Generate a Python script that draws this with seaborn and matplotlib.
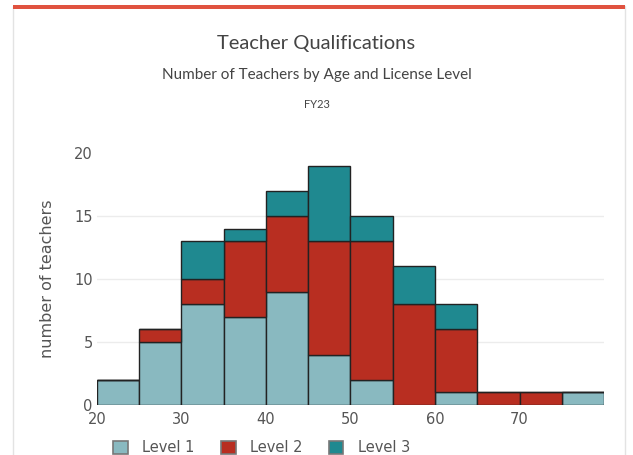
### Teacher Qualifications histogram ###

import pandas as pd
import numpy as np
import matplotlib.pyplot as plt
import matplotlib.patches as mpatches
import seaborn as sns

# data: teachers per 5-year age bin, split by license level
bin_starts = [20, 25, 30, 35, 40, 45, 50, 55, 60, 65, 70, 75]
level1 = [2, 5, 8, 7, 9, 4, 2, 0, 1, 0, 0, 1]
level2 = [0, 1, 2, 6, 6, 9, 11, 8, 5, 1, 1, 0]
level3 = [0, 0, 3, 1, 2, 6, 2, 3, 2, 0, 0, 0]
levels = ["Level 1", "Level 2", "Level 3"]
colors = {"Level 1": "#89b9c0", "Level 2": "#b82e21", "Level 3": "#1f8990"}

# long table, one row per bin and level, weighted by count
rows = []
for lvl, counts in zip(levels, [level1, level2, level3]):
    for start, n in zip(bin_starts, counts):
        rows.append({"age": start + 2.5, "level": lvl, "count": n})
teachers = pd.DataFrame(rows)

plt.rcParams["font.family"] = ["DejaVu Sans"]

fig = plt.figure(figsize=(6.33, 4.55), dpi=100)

# card frame with red top strip (drawn under the axes)
fig.patches.append(mpatches.Rectangle((13 / 633, -0.05), 612 / 633, 1.05 - 6 / 455,
                                      transform=fig.transFigure, facecolor="white",
                                      edgecolor="#e3e3e3", linewidth=1, zorder=-5))
fig.patches.append(mpatches.Rectangle((13 / 633, 1 - 9 / 455), 612 / 633, 4 / 455,
                                      transform=fig.transFigure, facecolor="#e0523f",
                                      edgecolor="none", zorder=-4))

ax = fig.add_axes([97 / 633, 50 / 455, 507 / 633, 252 / 455])
ax.set_facecolor("none")

# seaborn stacks the last hue level at the bottom
sns.histplot(data=teachers, x="age", hue="level", weights="count",
             hue_order=levels[::-1], palette=colors, multiple="stack",
             binwidth=5, binrange=(20, 80), alpha=1, edgecolor="#222222",
             linewidth=1, legend=False, ax=ax)

ax.set_xlim(20, 80)
ax.set_ylim(0, 20)
ax.set_xticks([20, 30, 40, 50, 60, 70])
ax.set_yticks([0, 5, 10, 15, 20])
for y in [5, 10, 15]:
    ax.axhline(y, color="#ececec", linewidth=1, zorder=0)
ax.set_axisbelow(True)
ax.tick_params(length=0, labelsize=10.5, labelcolor="#555555")
ax.tick_params(axis="y", pad=3)
ax.tick_params(axis="x", pad=5)
for side in ax.spines.values():
    side.set_visible(False)
ax.set_xlabel("")
ax.set_ylabel("number of teachers", fontsize=11.5, color="#555555", labelpad=14)

fig.text(0.5, 1 - 44 / 455, "Teacher Qualifications", ha="center", va="center",
         fontsize=14.5, color="#444444", family=["Lato", "DejaVu Sans"])
fig.text(0.5, 1 - 75 / 455, "Number of Teachers by Age and License Level", ha="center",
         va="center", fontsize=11, color="#444444", family=["Lato", "DejaVu Sans"])
fig.text(0.5, 1 - 104 / 455, "FY23", ha="center", va="center", fontsize=8,
         color="#444444", family=["Lato", "DejaVu Sans"])

handles = [mpatches.Patch(facecolor=colors[l], edgecolor="#777777", linewidth=1.2, label=l)
           for l in levels]
fig.legend(handles=handles, loc="center left", bbox_to_anchor=(100 / 633, 1 - 448 / 455),
           ncol=3, frameon=False, fontsize=10.5, labelcolor="#555555",
           handlelength=1.0, handleheight=1.0, columnspacing=1.8, handletextpad=1.0)

fig.savefig("out.png", dpi=100)
